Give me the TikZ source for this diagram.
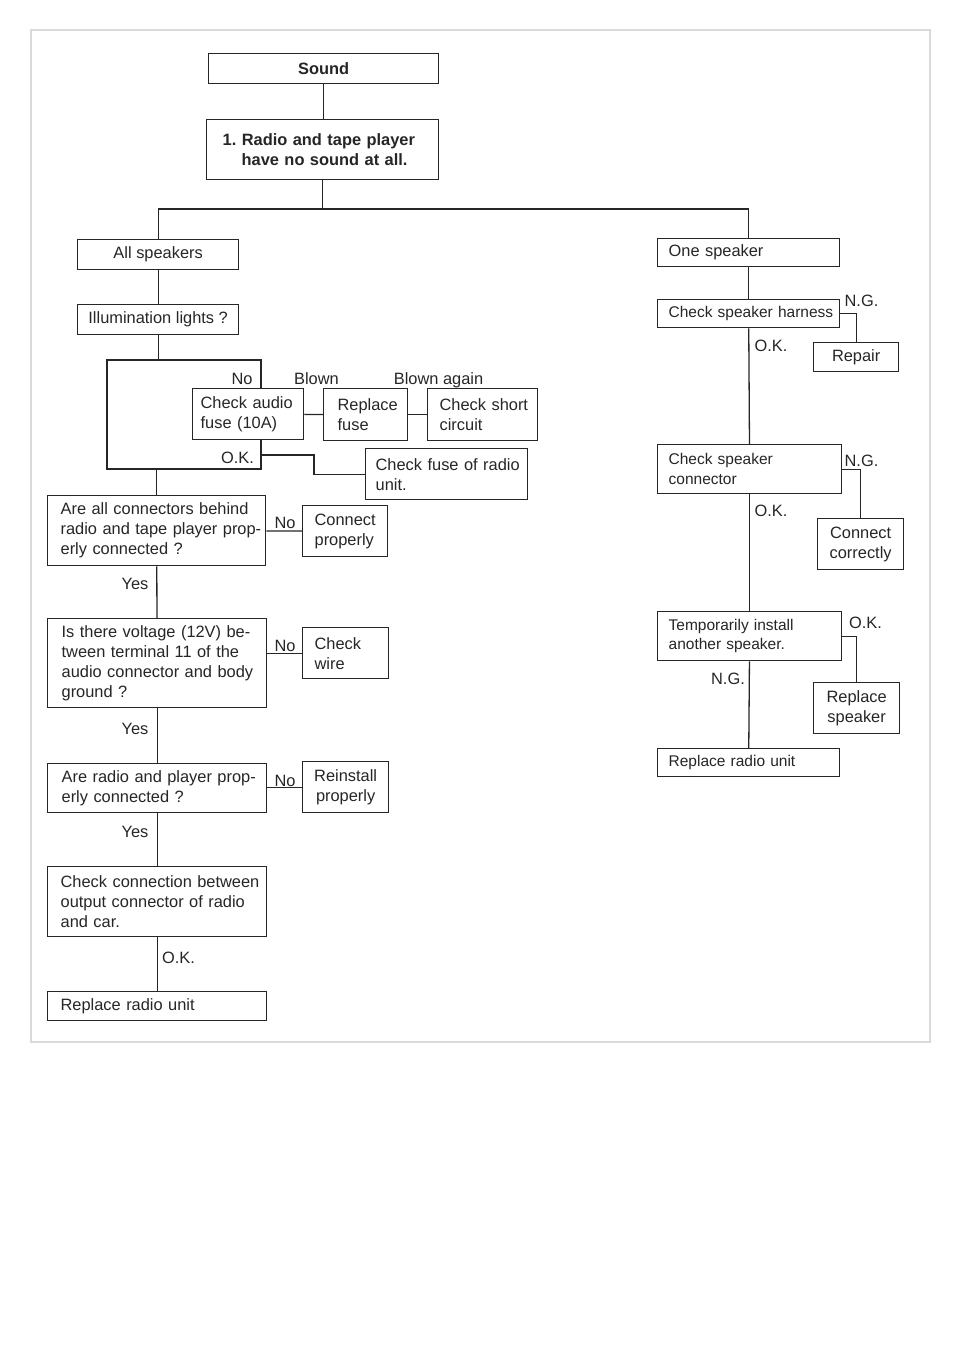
\documentclass[tikz,border=0pt]{standalone}
\usepackage{fontspec}
\setmainfont{Liberation Sans}
\definecolor{ink}{gray}{0.15}
\tikzset{
box/.style={ % Sets the properties for each step of the chart
draw=ink, fill=white, line width=1.3pt, anchor=north west,
inner xsep=0pt, inner ysep=0pt, align=left, text=ink,
font=\fontsize{16.4}{20}\selectfont},
pad/.style={execute at begin node={\leftskip=#1}}, % Left margin of the text
cbox/.style={box, align=center}, % Centred text
head/.style={font=\fontsize{16.4}{20}\selectfont\bfseries},
small/.style={font=\fontsize{15.5}{19.5}\selectfont},
answer/.style={ % Labels on the branches
inner sep=0pt, anchor=base, text=ink,
font=\fontsize{16.4}{20}\selectfont},
frame/.style={draw=black!15, line width=1.5pt}}

\begin{document}
\begin{tikzpicture}[x=1pt, y=-1pt, line width=1.3pt, color=ink]
\useasboundingbox (0,0) rectangle (960,1358);
\draw[frame] (31,30) rectangle (930,1042);
% left branch
\node[cbox, head, minimum width=230pt, minimum height=30pt] (sound) at (208,53) {Sound};
\node[box, head, text width=232pt, minimum height=60pt, pad=16pt] (nosound) at (206,119) {1.\ Radio and tape player\\\hspace*{19pt}have no sound at all.};
\node[cbox, minimum width=161pt, minimum height=30pt] (all) at (77,239) {All speakers};
\node[cbox, minimum width=161pt, minimum height=30pt] (illum) at (77,304) {Illumination lights ?};
\node[box, text width=111pt, minimum height=51pt, pad=8pt] (audio) at (192,388) {Check audio\\fuse (10A)};
\node[box, text width=84pt, minimum height=52pt, pad=14pt] (fuse) at (323,388) {Replace\\fuse};
\node[box, text width=110pt, minimum height=52pt, pad=12pt] (short) at (427,388) {Check short\\circuit};
\node[box, text width=162pt, minimum height=51pt, pad=10pt] (radfuse) at (365,448) {Check fuse of radio\\unit.};
\node[box, text width=218pt, minimum height=70pt, pad=13pt] (conn) at (47,495) {Are all connectors behind\\radio and tape player prop-\\erly connected ?};
\node[box, text width=85pt, minimum height=51pt, pad=12pt] (connprop) at (302,505) {Connect\\properly};
\node[box, text width=219pt, minimum height=89pt, pad=14pt] (volt) at (47,618) {Is there voltage (12V) be-\\tween terminal 11 of the\\audio connector and body\\ground ?};
\node[box, text width=86pt, minimum height=51pt, pad=12pt] (wire) at (302,627) {Check\\wire};
\node[box, text width=219pt, minimum height=49pt, pad=14pt] (radio) at (47,763) {Are radio and player prop-\\erly connected ?};
\node[cbox, minimum width=86pt, minimum height=51pt] (reinst) at (302,761) {Reinstall\\properly};
\node[box, text width=219pt, minimum height=70pt, pad=13pt] (conncar) at (47,866) {Check connection between\\output connector of radio\\and car.};
\node[box, text width=219pt, minimum height=29pt, pad=13pt] (replleft) at (47,991) {Replace radio unit};
% right branch
\node[box, text width=182pt, minimum height=28pt, pad=11pt] (one) at (657,238) {One speaker};
\node[box, small, text width=182pt, minimum height=28pt, pad=11pt] (harn) at (657,299) {Check speaker harness};
\node[cbox, minimum width=85pt, minimum height=29pt] (repair) at (813,342) {Repair};
\node[box, small, text width=184pt, minimum height=49pt, pad=11pt] (spkconn) at (657,444) {Check speaker\\connector};
\node[cbox, minimum width=86pt, minimum height=51pt] (conncor) at (817,518) {Connect\\correctly};
\node[box, small, text width=184pt, minimum height=49pt, pad=11pt] (temp) at (657,611) {Temporarily install\\another speaker.};
\node[cbox, minimum width=86pt, minimum height=51pt] (replspk) at (813,682) {Replace\\speaker};
\node[box, small, text width=182pt, minimum height=28pt, pad=11pt] (replright) at (657,748) {Replace radio unit};
% answers
\node[answer] (no1) at (242,384) {No};
\node[answer] (blown) at (316.5,384) {Blown};
\node[answer] (again) at (438.5,384) {Blown again};
\node[answer] (ok1) at (237.5,463) {O.K.};
\node[answer] (no2) at (285,528) {No};
\node[answer] (yes1) at (135,589) {Yes};
\node[answer] (no3) at (285,651) {No};
\node[answer] (yes2) at (135,734) {Yes};
\node[answer] (no4) at (285,786) {No};
\node[answer] (yes3) at (135,837) {Yes};
\node[answer] (ok2) at (178.5,963) {O.K.};
\node[answer] (ng1) at (861.5,306) {N.G.};
\node[answer] (ok3) at (771,351) {O.K.};
\node[answer] (ng2) at (861.5,466) {N.G.};
\node[answer] (ok4) at (771,516) {O.K.};
\node[answer] (ok5) at (865.5,628) {O.K.};
\node[answer] (ng3) at (728,684) {N.G.};
% connectors
\coordinate (split) at (322,209);
\coordinate (loopnw) at (107,360);
\coordinate (loopse) at (261,469);
\coordinate (okout) at (261,455);
\draw (sound.south) -- (sound.south |- nosound.north);
\draw (nosound.south) -- (nosound.south |- split);
\draw (all.north) |- (split) -| (one.north);
\draw (all) -- (illum);
\draw (illum.south) -- (illum.south |- loopnw);
\draw (audio.north -| loopse) -- (loopse |- loopnw) -- (loopnw) |- (loopse) -- (audio.south -| loopse);
\draw (conn.north |- loopse) -- (conn.north);
\draw (audio) -- (fuse);
\draw (fuse) -- (short);
\draw (okout) -- ++(53,0) |- (radfuse.west);
\draw (conn) -- (connprop);
\draw (conn) -- (volt);
\draw (wire.west -| volt.east) -- (wire.west);
\draw (volt) -- (radio);
\draw (reinst.west -| radio.east) -- (reinst.west);
\draw (radio) -- (conncar);
\draw (conncar) -- (replleft);
\draw (one) -- (harn);
\draw (harn.east) -| (repair.north);
\draw (harn) -- (spkconn);
\draw (spkconn.east) -| (conncor.north);
\draw (spkconn) -- (temp);
\draw (temp.east) -| (replspk.north);
\draw (temp) -- (replright);
\end{tikzpicture}
\end{document}
